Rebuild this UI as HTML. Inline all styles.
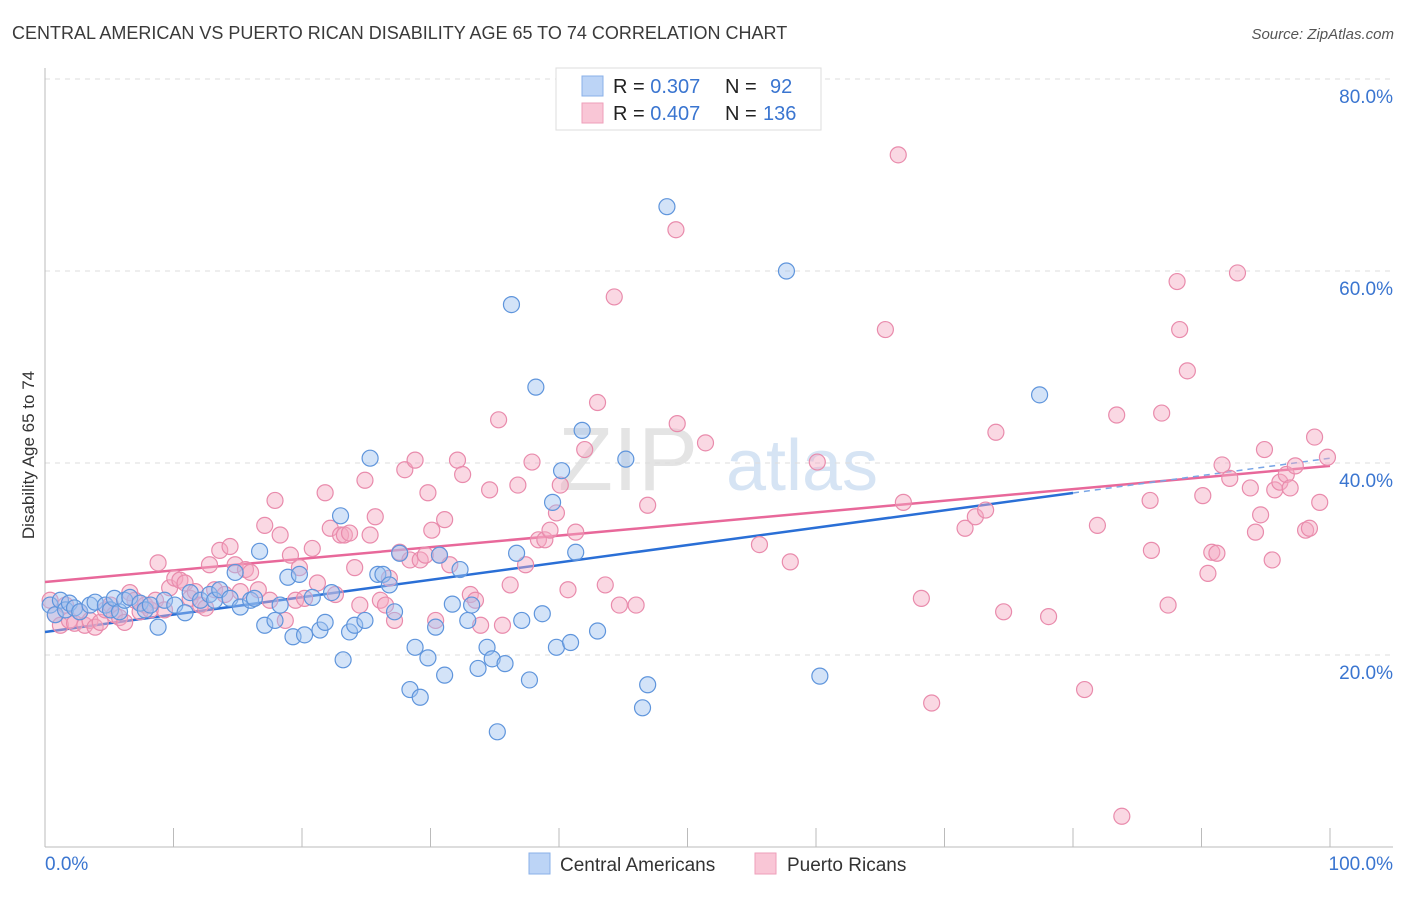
<!DOCTYPE html>
<html><head><meta charset="utf-8"><style>
body{margin:0;background:#fff;font-family:"Liberation Sans",sans-serif;}
svg text{font-family:"Liberation Sans",sans-serif;}
</style></head><body>
<svg id="chart" width="1406" height="892">
<text x="12" y="39" font-size="18" fill="#3a3a3a">CENTRAL AMERICAN VS PUERTO RICAN DISABILITY AGE 65 TO 74 CORRELATION CHART</text>
<text x="1394" y="39" font-size="15" fill="#555" font-style="italic" text-anchor="end">Source: ZipAtlas.com</text>
<text x="34" y="455" font-size="17" fill="#333" text-anchor="middle" transform="rotate(-90 34 455)">Disability Age 65 to 74</text>
<g><text x="628" y="490" font-size="90" fill="#e4e4e4" font-family="Liberation Serif" text-anchor="middle">ZIP</text><text x="802" y="490" font-size="72" fill="#d6e4f4" text-anchor="middle">atlas</text></g>
<g id="grid"></g><g id="axes"></g><g id="trends"></g><g id="pts"></g>
<g>
<rect x="556" y="68" width="265" height="62" fill="#fff" stroke="#ddd"/>
<rect x="582" y="76" width="21" height="20" fill="#bcd4f6" stroke="#8ab0e8"/>
<rect x="582" y="103" width="21" height="20" fill="#f9c6d6" stroke="#ee9fba"/>
<text x="613" y="93" font-size="20" fill="#222">R = <tspan fill="#3a75d0">0.307</tspan><tspan x="725">N =</tspan><tspan x="770" fill="#3a75d0">92</tspan></text>
<text x="613" y="120" font-size="20" fill="#222">R = <tspan fill="#3a75d0">0.407</tspan><tspan x="725">N =</tspan><tspan x="763" fill="#3a75d0">136</tspan></text>
</g>
<g>
<rect x="529" y="853" width="21" height="21" fill="#bcd4f6" stroke="#8ab0e8"/>
<text x="560" y="871" font-size="19" fill="#333">Central Americans</text>
<rect x="755" y="853" width="21" height="21" fill="#f9c6d6" stroke="#ee9fba"/>
<text x="787" y="871" font-size="19" fill="#333">Puerto Ricans</text>
</g>
</svg>
<script>
const yTicks=[20,40,60,80];
const xTickLabels=["0.0%","100.0%"];
const blueX=[0.4,0.8,1.2,1.6,1.9,2.3,2.7,3.5,3.9,4.7,5.1,5.4,5.8,6.2,6.6,7.4,7.8,8.2,8.8,9.3,10.1,10.9,11.3,12.1,12.8,13.2,13.6,14.4,14.8,15.2,16.0,16.3,16.7,17.1,17.9,18.3,18.9,19.3,19.8,20.2,20.8,21.4,21.8,22.3,23.0,23.2,23.7,24.1,24.9,25.3,25.9,26.3,26.8,27.2,27.6,28.4,28.8,29.2,29.8,30.4,30.7,31.1,31.7,32.3,32.9,33.2,33.7,34.4,34.8,35.2,35.8,36.3,36.7,37.1,37.7,38.2,38.7,39.5,39.8,40.2,40.9,41.3,41.8,43.0,45.2,46.5,46.9,48.4,57.7,60.3,77.4];
const blueY=[25.2,24.2,25.7,24.7,25.4,24.9,24.5,25.2,25.5,25.2,24.7,25.9,24.5,25.7,26.0,25.4,24.7,25.2,22.9,25.7,25.2,24.4,26.5,25.7,26.3,25.7,26.8,25.9,28.6,25.0,25.7,25.9,30.8,23.1,23.6,25.2,28.1,21.9,28.4,22.1,26.0,22.6,23.4,26.5,34.5,19.5,22.4,23.1,23.6,40.5,28.4,28.4,27.3,24.5,30.6,16.4,20.8,15.6,19.7,22.9,30.4,17.9,25.3,28.9,23.6,25.2,18.6,20.8,19.6,12.0,19.1,56.5,30.6,23.6,17.4,47.9,24.3,35.9,20.8,39.2,21.3,30.7,43.4,22.5,40.4,14.5,16.9,66.7,60.0,17.8,47.1];
const pinkX=[0.4,0.8,1.2,1.6,1.9,2.3,2.7,3.1,3.5,3.9,4.3,4.7,5.1,5.4,5.8,6.2,6.6,7.0,7.4,7.8,8.2,8.6,8.8,9.3,9.7,10.1,10.5,10.9,11.3,11.7,12.1,12.5,12.8,13.2,13.6,14.0,14.4,14.8,15.2,15.6,16.0,16.6,17.1,17.5,17.9,18.3,18.7,19.1,19.5,19.8,20.2,20.8,21.2,21.8,22.2,22.6,23.0,23.3,23.7,24.1,24.5,24.9,25.3,25.7,26.1,26.5,26.8,27.2,27.6,28.0,28.4,28.8,29.2,29.6,29.8,30.1,30.4,30.7,31.1,31.5,32.1,32.5,33.1,33.5,33.9,34.6,35.3,35.6,36.2,36.8,37.4,37.9,38.4,38.9,39.3,39.8,40.1,40.7,41.3,42.0,43.0,43.6,44.3,44.7,46.0,46.9,49.1,49.2,51.4,55.6,58.0,60.1,65.4,66.4,66.8,68.2,69.0,71.6,72.4,73.2,74.0,74.6,78.1,80.9,81.9,83.4,83.8,86.0,86.1,86.9,87.4,88.1,88.3,88.9,90.1,90.5,90.8,91.2,91.6,92.2,92.8,93.8,94.2,94.6,94.9,95.5,95.7,96.1,96.6,96.9,97.3,98.1,98.4,98.8,99.2,99.8];
const pinkY=[25.7,24.2,23.1,25.2,23.6,23.3,24.5,23.1,23.6,22.9,23.4,24.7,25.2,24.2,23.9,23.4,26.5,25.7,24.5,25.2,24.7,25.7,29.6,24.7,27.0,28.0,27.8,27.5,25.9,26.6,25.2,24.9,29.4,26.8,30.9,26.3,31.3,29.4,26.6,28.9,28.6,26.8,33.5,25.7,36.1,32.5,23.6,30.4,25.7,29.1,25.9,31.1,27.5,36.9,33.2,26.3,32.5,32.5,32.7,29.1,25.2,38.2,32.5,34.4,25.7,25.2,28.0,23.6,30.7,39.3,29.9,40.3,29.9,30.4,36.9,33.0,23.6,30.4,34.1,29.4,40.3,38.8,26.3,25.7,23.1,37.2,44.5,23.1,27.3,37.7,29.4,40.1,32.0,32.0,33.0,34.8,37.7,26.8,32.8,41.4,46.3,27.3,57.3,25.2,25.2,35.6,64.3,44.1,42.1,31.5,29.7,40.1,53.9,72.1,35.9,25.9,15.0,33.2,34.4,35.1,43.2,24.5,24.0,16.4,33.5,45.0,3.2,36.1,30.9,45.2,25.2,58.9,53.9,49.6,36.6,28.5,30.7,30.6,39.8,38.4,59.8,37.4,32.8,34.6,41.4,29.9,37.2,38.0,38.8,37.4,39.7,33.0,33.2,42.7,35.9,40.6];
const blueTrend=[22.4,40.5];
const pinkTrend=[27.6,39.7];
const X=v=>45+v*12.85, Y=v=>847-v*9.6;
const NS="http://www.w3.org/2000/svg";
function mk(tag,attrs,parent){const e=document.createElementNS(NS,tag);for(const k in attrs)e.setAttribute(k,attrs[k]);document.getElementById(parent).appendChild(e);return e;}
yTicks.forEach(t=>{
 const l=mk('line',{x1:45,x2:1393,y1:Y(t),y2:Y(t),stroke:'#ddd','stroke-dasharray':'5,5'},'grid');
 
 
 const tx=mk('text',{x:1393,y:Y(t)+24,'font-size':19,fill:'#3a75d0','text-anchor':'end'},'grid');
 tx.textContent=t.toFixed(1)+'%';
 
 
});
const ax=mk('line',{x1:45,x2:45,y1:68,y2:847,stroke:'#bbb'},'axes');


const bx=mk('line',{x1:45,x2:1393,y1:847,y2:847,stroke:'#bbb'},'axes');


for(let i=1;i<=10;i++){
 const t=mk('line',{x1:X(i*10),x2:X(i*10),y1:828,y2:847,stroke:'#bbb'},'axes');
 
 
}
xTickLabels.forEach((s,i)=>{
 const t=mk('text',{x:i?1393:45,y:870,'font-size':19,fill:'#3a75d0','text-anchor':i?'end':'start'},'axes');
 t.textContent=s;
 
 
});
function dots(xs,ys,fill,stroke,name){xs.forEach((x,i)=>{
 const c=mk('circle',{cx:X(x),cy:Y(ys[i]),r:8,fill:fill,'fill-opacity':0.45,stroke:stroke,'stroke-width':1.2},'pts');
 
 
});}
dots(pinkX,pinkY,'#f5a9c2','#e98bac','point-puerto-rican');
dots(blueX,blueY,'#9ec2f0','#5f95dc','point-central-american');
const pt=mk('line',{x1:X(0),y1:Y(pinkTrend[0]),x2:X(100),y2:Y(pinkTrend[1]),stroke:'#e8689a','stroke-width':2.5},'trends');


const bm=blueTrend[0]+(blueTrend[1]-blueTrend[0])*0.8;
const bt=mk('line',{x1:X(0),y1:Y(blueTrend[0]),x2:X(80),y2:Y(bm),stroke:'#2a6fd6','stroke-width':2.5},'trends');


const bd=mk('line',{x1:X(80),y1:Y(bm),x2:X(100),y2:Y(blueTrend[1]),stroke:'#7aa6e6','stroke-width':1.5,'stroke-dasharray':'6,5'},'trends');


</script>
</body></html>
